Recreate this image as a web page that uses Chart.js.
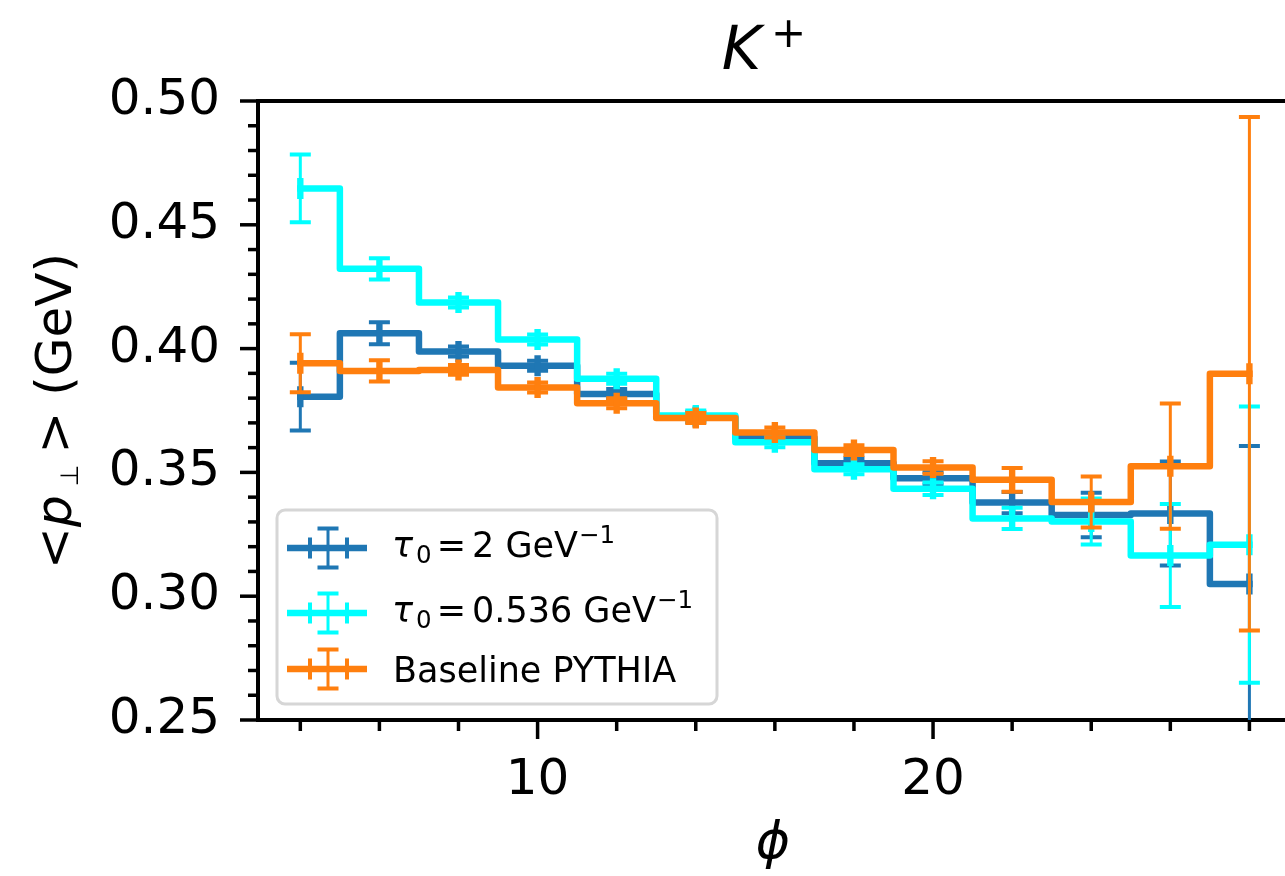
<!DOCTYPE html>
<html>
<head>
<meta charset="utf-8">
<script src="https://cdn.jsdelivr.net/npm/chart.js@4.4.1/dist/chart.umd.min.js"></script>
<style>
    html, body { margin: 0; padding: 0; background: #fff; overflow: hidden; }
    #wrap { width: 1285px; height: 876px; }
</style>
</head>
<body>
<div id="wrap"><canvas id="kplusChart" width="1285" height="876"></canvas></div>
<script>
// bin centres (phi)
const phi = [4, 6, 8, 10, 12, 14, 16, 18, 20, 22, 24, 26, 28];

// <p_perp> for tau0 = 2 GeV^-1
const tau2Vals = [0.3806, 0.4062, 0.3988, 0.3931, 0.3817, 0.3724, 0.3640, 0.3537, 0.3476, 0.3378, 0.3328, 0.3334, 0.3049];
const tau2Err = [0.0137, 0.0044, 0.0020, 0.0020, 0.0020, 0.0020, 0.0020, 0.0020, 0.0025, 0.0043, 0.0090, 0.0210, 0.0558];

// <p_perp> for tau0 = 0.536 GeV^-1
const tau0536Vals = [0.4647, 0.4322, 0.4186, 0.4037, 0.3878, 0.3730, 0.3622, 0.3513, 0.3434, 0.3314, 0.3302, 0.3164, 0.3208];
const tau0536Err = [0.0137, 0.0043, 0.0020, 0.0020, 0.0020, 0.0020, 0.0020, 0.0020, 0.0025, 0.0043, 0.0093, 0.0208, 0.0558];

// baseline PYTHIA
const pythiaVals = [0.3941, 0.3910, 0.3914, 0.3843, 0.3779, 0.3720, 0.3661, 0.3590, 0.3520, 0.3470, 0.3380, 0.3525, 0.3898];
const pythiaErr = [0.0117, 0.0043, 0.0020, 0.0020, 0.0020, 0.0020, 0.0020, 0.0020, 0.0025, 0.0048, 0.0103, 0.0253, 0.1037];

// x error (caps nearly merge on the point)
const phiErr = 0.03;

const xTickLabels = [10, 20];
const yTickLabels = [0.25, 0.30, 0.35, 0.40, 0.45, 0.50];

const seriesColors = ['#1f77b4', '#00ffff', '#ff7f0e'];
const FONT = '"DejaVu Sans", sans-serif';

function makeSet(label, vals, errs, color, order) {
    return {
        label: label,
        data: phi.map((x, i) => ({ x: x, y: vals[i], err: errs[i] })),
        borderColor: color,
        backgroundColor: color,
        borderWidth: 6.5,
        stepped: 'middle',
        pointRadius: 0,
        pointHoverRadius: 0,
        borderCapStyle: 'square',
        borderJoinStyle: 'round',
        order: order
    };
}

// draw text made of pieces (italic, sub/superscript)
function drawParts(ctx, parts, x, y) {
    let cx = x;
    parts.forEach(p => {
        ctx.font = p.font;
        cx += p.gap || 0;
        ctx.fillText(p.t, cx, y + (p.dy || 0));
        cx += ctx.measureText(p.t).width;
    });
    return cx - x;
}

function partsWidth(ctx, parts) {
    let w = 0;
    parts.forEach(p => {
        ctx.font = p.font;
        w += (p.gap || 0) + ctx.measureText(p.t).width;
    });
    return w;
}

// error bars drawn right after each step line
const errorBars = {
    id: 'errorBars',
    afterDatasetDraw(chart, args) {
        const ds = chart.data.datasets[args.index];
        const { ctx, chartArea, scales: { x, y } } = chart;
        ctx.save();
        ctx.beginPath();
        ctx.rect(chartArea.left, chartArea.top, chartArea.right - chartArea.left, chartArea.bottom - chartArea.top);
        ctx.clip();
        ctx.strokeStyle = ds.borderColor;
        ctx.lineCap = 'butt';
        ds.data.forEach(p => {
            const px = x.getPixelForValue(p.x);
            const py = y.getPixelForValue(p.y);
            const top = y.getPixelForValue(p.y + p.err);
            const bot = y.getPixelForValue(p.y - p.err);
            ctx.lineWidth = 3;
            ctx.beginPath();
            ctx.moveTo(px, top);
            ctx.lineTo(px, bot);
            ctx.stroke();
            ctx.lineWidth = 4;
            ctx.beginPath();
            ctx.moveTo(px - 10.5, top);
            ctx.lineTo(px + 10.5, top);
            ctx.moveTo(px - 10.5, bot);
            ctx.lineTo(px + 10.5, bot);
            const xl = x.getPixelForValue(p.x - phiErr);
            const xr = x.getPixelForValue(p.x + phiErr);
            ctx.moveTo(xl, py - 10.5);
            ctx.lineTo(xl, py + 10.5);
            ctx.moveTo(xr, py - 10.5);
            ctx.lineTo(xr, py + 10.5);
            ctx.stroke();
        });
        ctx.restore();
    }
};

// ticks, top spine, title, axis labels, legend
const decorations = {
    id: 'decorations',
    afterDraw(chart) {
        const { ctx, chartArea, scales: { x, y } } = chart;
        ctx.save();
        ctx.strokeStyle = '#000';
        ctx.fillStyle = '#000';
        ctx.lineCap = 'butt';

        // top spine
        ctx.lineWidth = 4;
        ctx.beginPath();
        ctx.moveTo(chartArea.left - 2, chartArea.top);
        ctx.lineTo(chartArea.right, chartArea.top);
        ctx.stroke();

        // y ticks, minor every 0.01
        ctx.lineWidth = 3.5;
        for (let k = 25; k <= 50; k++) {
            const py = y.getPixelForValue(k / 100);
            const len = (k % 5 === 0) ? 18 : 10;
            ctx.beginPath();
            ctx.moveTo(chartArea.left, py);
            ctx.lineTo(chartArea.left - len, py);
            ctx.stroke();
        }
        // x ticks, minor every 2
        for (let v = 4; v <= 28; v += 2) {
            const px = x.getPixelForValue(v);
            const len = (v % 10 === 0) ? 19 : 11;
            ctx.beginPath();
            ctx.moveTo(px, chartArea.bottom);
            ctx.lineTo(px, chartArea.bottom + len);
            ctx.stroke();
        }

        ctx.textBaseline = 'alphabetic';
        ctx.textAlign = 'left';

        // title K^+
        const title = [
            { t: 'K', font: 'italic 60px ' + FONT },
            { t: '+', font: '42px ' + FONT, dy: -22, gap: 10 }
        ];
        drawParts(ctx, title, 764 - partsWidth(ctx, title) / 2, 69);

        // x label
        const xl = [{ t: 'ϕ', font: 'italic 52px ' + FONT }];
        drawParts(ctx, xl, 773 - partsWidth(ctx, xl) / 2, 858);

        // y label
        const yl = [
            { t: '<', font: '50px ' + FONT },
            { t: 'p', font: 'italic 50px ' + FONT, gap: 0 },
            { t: '⊥', font: '25px ' + FONT, dy: 7, gap: 9 },
            { t: '>', font: '50px ' + FONT, gap: 11 },
            { t: ' (GeV)', font: '50px ' + FONT }
        ];
        ctx.save();
        ctx.translate(71, 411);
        ctx.rotate(-Math.PI / 2);
        drawParts(ctx, yl, -partsWidth(ctx, yl) / 2, 0);
        ctx.restore();

        // legend
        const bx = 277, by = 510, bw = 440, bh = 194, r = 8;
        ctx.beginPath();
        ctx.moveTo(bx + r, by);
        ctx.arcTo(bx + bw, by, bx + bw, by + bh, r);
        ctx.arcTo(bx + bw, by + bh, bx, by + bh, r);
        ctx.arcTo(bx, by + bh, bx, by, r);
        ctx.arcTo(bx, by, bx + bw, by, r);
        ctx.closePath();
        ctx.fillStyle = 'rgba(255,255,255,0.8)';
        ctx.fill();
        ctx.lineWidth = 3;
        ctx.strokeStyle = '#d6d6d6';
        ctx.stroke();

        const rows = [
            { y: 548, base: 556.7, value: '2' },
            { y: 613, base: 621.7, value: '0.536' },
            { y: 669, base: 681.7, value: null }
        ];
        rows.forEach((row, i) => {
            const c = seriesColors[i];
            ctx.strokeStyle = c;
            ctx.lineWidth = 6.5;
            ctx.lineCap = 'butt';
            ctx.beginPath();
            ctx.moveTo(287, row.y);
            ctx.lineTo(367, row.y);
            ctx.stroke();
            ctx.lineWidth = 3;
            ctx.beginPath();
            ctx.moveTo(328, row.y - 19.5);
            ctx.lineTo(328, row.y + 19.5);
            ctx.stroke();
            ctx.lineWidth = 4;
            ctx.beginPath();
            ctx.moveTo(317.5, row.y - 19.5);
            ctx.lineTo(338.5, row.y - 19.5);
            ctx.moveTo(317.5, row.y + 19.5);
            ctx.lineTo(338.5, row.y + 19.5);
            ctx.moveTo(310, row.y - 10.5);
            ctx.lineTo(310, row.y + 10.5);
            ctx.moveTo(347, row.y - 10.5);
            ctx.lineTo(347, row.y + 10.5);
            ctx.stroke();

            ctx.fillStyle = '#000';
            if (row.value === null) {
                drawParts(ctx, [{ t: 'Baseline PYTHIA', font: '35px ' + FONT }], 393, row.base);
            } else {
                drawParts(ctx, [
                    { t: 'τ', font: 'italic 35px ' + FONT, gap: -1 },
                    { t: '0', font: '24.5px ' + FONT, dy: 6.5, gap: 3 },
                    { t: '=', font: '35px ' + FONT, gap: 5 },
                    { t: row.value + ' GeV', font: '35px ' + FONT, gap: 6 },
                    { t: '−1', font: '24.5px ' + FONT, dy: -13.7, gap: 1 }
                ], 393, row.base);
            }
        });
        ctx.restore();
    }
};

const ctx = document.getElementById('kplusChart').getContext('2d');
new Chart(ctx, {
    type: 'line',
    data: {
        datasets: [
            makeSet('τ0 = 2 GeV⁻¹', tau2Vals, tau2Err, seriesColors[0], 3),
            makeSet('τ0 = 0.536 GeV⁻¹', tau0536Vals, tau0536Err, seriesColors[1], 2),
            makeSet('Baseline PYTHIA', pythiaVals, pythiaErr, seriesColors[2], 1)
        ]
    },
    options: {
        responsive: false,
        animation: false,
        devicePixelRatio: 1,
        layout: { padding: { top: 101, right: 0, bottom: 0, left: 0 } },
        plugins: {
            legend: { display: false },
            title: { display: false },
            tooltip: { enabled: false }
        },
        scales: {
            x: {
                type: 'linear',
                min: 2.93,
                max: 28.9,
                afterBuildTicks: s => { s.ticks = xTickLabels.map(v => ({ value: v })); },
                afterFit: s => { s.height = 156; },
                grid: { drawOnChartArea: false, color: 'rgba(0,0,0,0)', tickLength: 19 },
                border: { display: true, color: '#000', width: 4 },
                ticks: {
                    font: { family: FONT, size: 50 },
                    color: '#000',
                    padding: 12,
                    maxRotation: 0,
                    autoSkip: false,
                    callback: v => String(v)
                }
            },
            y: {
                type: 'linear',
                min: 0.25,
                max: 0.50,
                afterBuildTicks: s => { s.ticks = yTickLabels.map(v => ({ value: v })); },
                afterFit: s => { s.width = 258; },
                grid: { drawOnChartArea: false, color: 'rgba(0,0,0,0)', tickLength: 18 },
                border: { display: true, color: '#000', width: 4 },
                ticks: {
                    font: { family: FONT, size: 50 },
                    color: '#000',
                    padding: 20,
                    autoSkip: false,
                    callback: v => v.toFixed(2)
                }
            }
        }
    },
    plugins: [errorBars, decorations]
});
</script>
</body>
</html>
